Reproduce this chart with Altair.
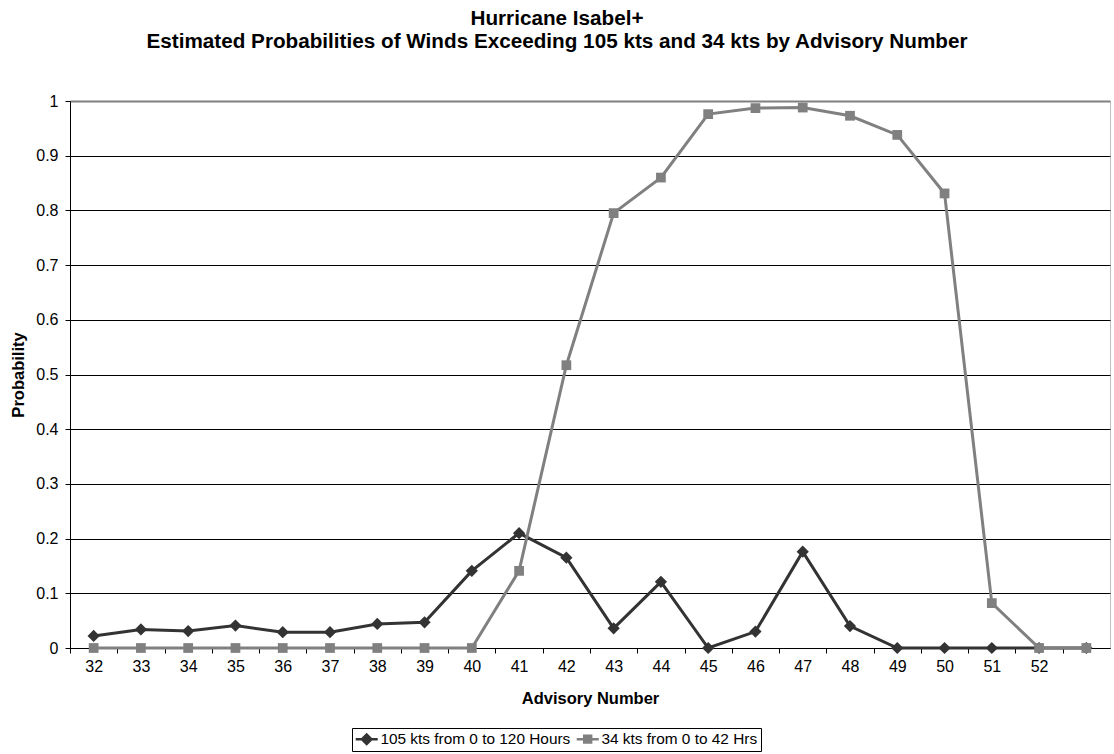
import altair as alt
import pandas as pd

# Advisory numbers along the x axis (the last slot carries no label)
advisory = ["32", "33", "34", "35", "36", "37", "38", "39", "40", "41", "42",
            "43", "44", "45", "46", "47", "48", "49", "50", "51", "52", "53"]

# Probability of winds exceeding 105 kts within 0-120 hours
p105 = [0.022, 0.034, 0.031, 0.041, 0.029, 0.029, 0.044, 0.047, 0.141, 0.210, 0.165,
        0.036, 0.121, 0.000, 0.030, 0.176, 0.040, 0.000, 0.000, 0.000, 0.000, 0.000]

# Probability of winds exceeding 34 kts within 0-42 hours
p34 = [0.000, 0.000, 0.000, 0.000, 0.000, 0.000, 0.000, 0.000, 0.000, 0.141, 0.517,
       0.795, 0.860, 0.976, 0.987, 0.988, 0.973, 0.938, 0.831, 0.082, 0.000, 0.000]

series_names = ["105 kts from 0 to 120 Hours", "34 kts from 0 to 42 Hrs"]
series_colors = ["#333333", "#808080"]

# Legend glyphs: a short line with the series marker on it, extending to the
# right of the symbol slot so that it reads like a line-with-marker key
legend_glyphs = [
    "M-1,-0.18H2.15V0.18H-1Z M0.57,-0.93L1.5,0L0.57,0.93L-0.36,0Z",
    "M-1,-0.18H2.15V0.18H-1Z M-0.1,-0.67H1.24V0.67H-0.1Z",
]

rows = []
for name, values in zip(series_names, [p105, p34]):
    for adv, v in zip(advisory, values):
        rows.append({"advisory": adv, "series": name, "prob": v})
df = pd.DataFrame(rows)

W, H = 1040, 547
step = W / len(advisory)
FONT = "Liberation Sans"

x_enc = alt.X(
    "advisory:O",
    sort=advisory,
    scale=alt.Scale(type="point", padding=0.5),
    axis=alt.Axis(
        title="Advisory Number",
        labelAngle=0,
        labelExpr="datum.value == '53' ? '' : datum.label",
        tickOffset=-step / 2,
        labelOffset=step / 2,
        tickSize=5,
        tickColor="black",
        domainColor="black",
        labelPadding=5,
        titlePadding=16,
        grid=False,
    ),
)
y_axis = alt.Axis(
    title="Probability",
    values=[0, 0.1, 0.2, 0.3, 0.4, 0.5, 0.6, 0.7, 0.8, 0.9, 1.0],
    format=".1~f",
    tickSize=5,
    tickColor="black",
    domainColor="black",
    labelPadding=7,
    titlePadding=9,
    grid=True,
    gridColor={"condition": {"test": "datum.value === 1", "value": "#808080"},
               "value": "black"},
    gridWidth={"condition": {"test": "datum.value === 1", "value": 2},
               "value": 1},
)
y_scale = alt.Scale(domain=[0, 1], nice=False, zero=True)
y_enc = alt.Y("prob:Q", scale=y_scale, axis=y_axis)

base = alt.Chart(df)


def series(i):
    return base.transform_filter(alt.datum.series == series_names[i])


lines105 = series(0).mark_line(strokeWidth=3, color=series_colors[0]).encode(x=x_enc, y=y_enc)
lines34 = series(1).mark_line(strokeWidth=3, color=series_colors[1]).encode(x=x_enc, y=y_enc)

pts105 = series(0).mark_point(
    shape="diamond", filled=True, size=150, opacity=1, color=series_colors[0]
).encode(x=x_enc, y=y_enc)
pts34 = series(1).mark_point(
    shape="square", filled=True, size=95, opacity=1, color=series_colors[1]
).encode(x=x_enc, y=y_enc)

legend_def = alt.Legend(
    title=None,
    orient="none",
    legendX=282,
    legendY=627,
    direction="horizontal",
    strokeColor="black",
    fillColor="white",
    padding=3,
    symbolSize=196,
    symbolStrokeWidth=0,
    symbolOpacity=1,
    labelFont=FONT,
    labelFontSize=15.4,
    labelColor="black",
    labelOffset=10,
    labelLimit=400,
    columnPadding=5,
)

# Helper layer that carries the legend; its points sit outside the plot
# area and are clipped away
legend_layer = base.transform_calculate(
    off="datum.prob + 5"
).mark_point(filled=True, clip=True, opacity=1).encode(
    x=x_enc,
    y=alt.Y("off:Q", scale=y_scale, axis=y_axis),
    fill=alt.Fill("series:N", scale=alt.Scale(domain=series_names, range=series_colors),
                  legend=legend_def),
    shape=alt.Shape("series:N", scale=alt.Scale(domain=series_names, range=legend_glyphs),
                    legend=legend_def),
)

chart = alt.layer(lines105, pts105, lines34, pts34, legend_layer).properties(
    width=W,
    height=H,
    title=alt.TitleParams(
        text=["Hurricane Isabel+",
              "Estimated Probabilities of Winds Exceeding 105 kts and 34 kts by Advisory Number"],
        anchor="middle",
        dx=-33,
        offset=40,
        lineHeight=23,
        font=FONT,
        fontSize=20.7,
        fontWeight="bold",
        color="black",
    ),
    autosize=alt.AutoSizeParams(type="none"),
    padding={"left": 70, "top": 101, "right": 4, "bottom": 106},
    background="white",
).configure_view(
    stroke="#c0c0c0", strokeWidth=1
).configure_axis(
    labelFont=FONT,
    labelFontSize=16,
    labelColor="black",
    titleFont=FONT,
    titleFontSize=16.5,
    titleFontWeight="bold",
    titleColor="black",
)

chart.save("out.html", embed_options={"renderer": "svg", "actions": False})
